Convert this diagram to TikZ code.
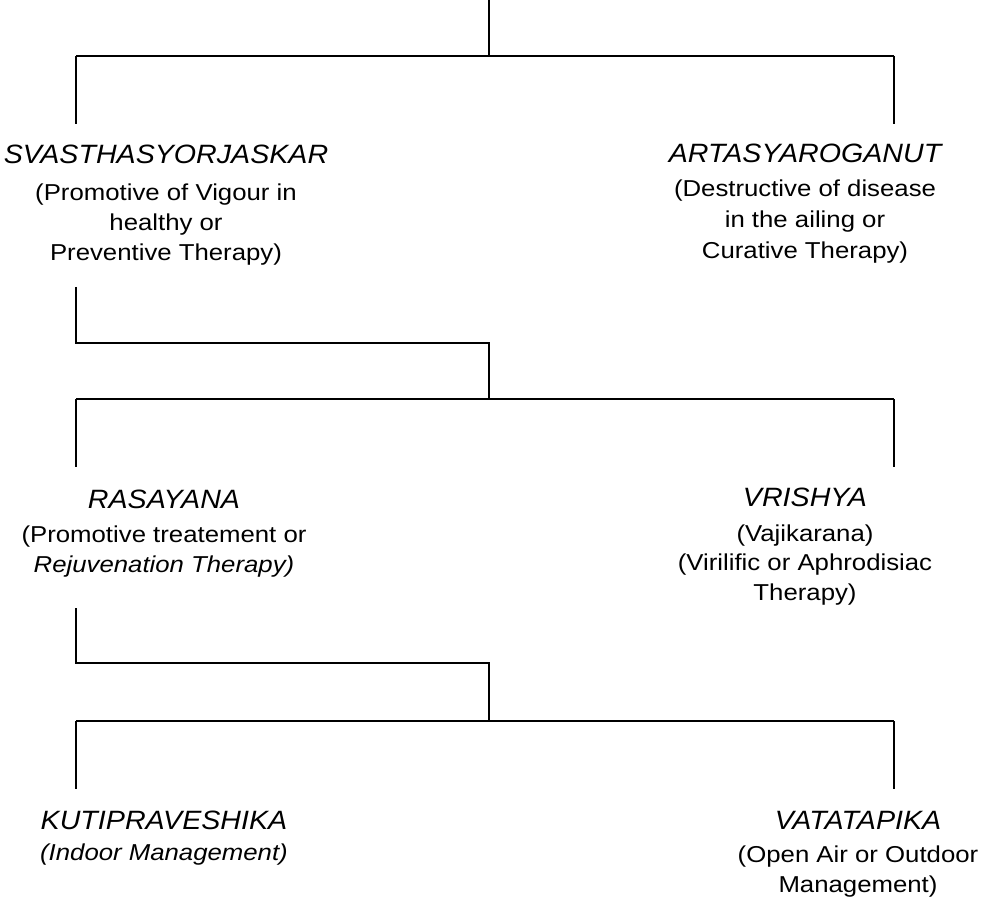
\documentclass[tikz,border=0pt]{standalone}
\usepackage{fontspec}
\setmainfont{Liberation Sans}[FakeStretch=1.12]
\newfontfamily\ttlfont{Liberation Sans}[FakeStretch=1.08]
\begin{document}
\begin{tikzpicture}[x=1pt,y=-1pt,
  vline/.style={line width=1.9pt},
  hline/.style={line width=1.3pt},
  ttl/.style={anchor=base, inner sep=0pt, font=\ttlfont\itshape\fontsize{26.5}{32}\selectfont},
  txt/.style={anchor=base, inner sep=0pt, font=\fontsize{23}{28}\selectfont},
  itxt/.style={txt, font=\itshape\fontsize{23}{28}\selectfont}]
\useasboundingbox (0,0) rectangle (985,901);
% junction coordinates
\coordinate (top) at (489,0);
\coordinate (j1) at (489,56);
\coordinate (h1l) at (76,56);
\coordinate (h1r) at (894,56);
\coordinate (v1l) at (76,124);
\coordinate (v1r) at (894,124);
\coordinate (e1a) at (76,287);
\coordinate (e1b) at (76,343);
\coordinate (e1c) at (489,343);
\coordinate (j2) at (489,399);
\coordinate (h2l) at (76,399);
\coordinate (h2r) at (894,399);
\coordinate (v2l) at (76,467);
\coordinate (v2r) at (894,467);
\coordinate (e2a) at (76,608);
\coordinate (e2b) at (76,663);
\coordinate (e2c) at (489,663);
\coordinate (j3) at (489,721);
\coordinate (h3l) at (76,721);
\coordinate (h3r) at (894,721);
\coordinate (v3l) at (76,789);
\coordinate (v3r) at (894,789);
% connectors
\draw[vline] (top) -- (j1);
\draw[hline] (h1l) -- (h1r);
\draw[vline] (h1l) -- (v1l);
\draw[vline] (h1r) -- (v1r);
\draw[vline] (e1a) -- (e1b) -- (e1c) -- (j2);
\draw[hline] (h2l) -- (h2r);
\draw[vline] (h2l) -- (v2l);
\draw[vline] (h2r) -- (v2r);
\draw[vline] (e2a) -- (e2b) -- (e2c) -- (j3);
\draw[hline] (h3l) -- (h3r);
\draw[vline] (h3l) -- (v3l);
\draw[vline] (h3r) -- (v3r);
% level 1
\node[ttl] (sv) at (166,164) {SVASTHASYORJASKAR};
\node[txt] (sv1) at (166,201) {(Promotive of Vigour in};
\node[txt] (sv2) at (166,231) {healthy or};
\node[txt] (sv3) at (166,261) {Preventive Therapy)};
\node[ttl] (ar) at (805,163) {ARTASYAROGANUT};
\node[txt] (ar1) at (805,197) {(Destructive of disease};
\node[txt] (ar2) at (805,228) {in the ailing or};
\node[txt] (ar3) at (805,259) {Curative Therapy)};
% level 2
\node[ttl] (ra) at (164,508) {RASAYANA};
\node[txt] (ra1) at (164,542) {(Promotive treatement or};
\node[itxt] (ra2) at (164,572) {Rejuvenation Therapy)};
\node[ttl] (vr) at (805,506) {VRISHYA};
\node[txt] (vr1) at (805,541) {(Vajikarana)};
\node[txt] (vr2) at (805,570) {(Virilific or Aphrodisiac};
\node[txt] (vr3) at (805,600) {Therapy)};
% level 3
\node[ttl] (ku) at (164,829) {KUTIPRAVESHIKA};
\node[itxt] (ku1) at (164,860) {(Indoor Management)};
\node[ttl] (va) at (858,829) {VATATAPIKA};
\node[txt] (va1) at (858,862) {(Open Air or Outdoor};
\node[txt] (va2) at (858,892) {Management)};
\end{tikzpicture}
\end{document}
